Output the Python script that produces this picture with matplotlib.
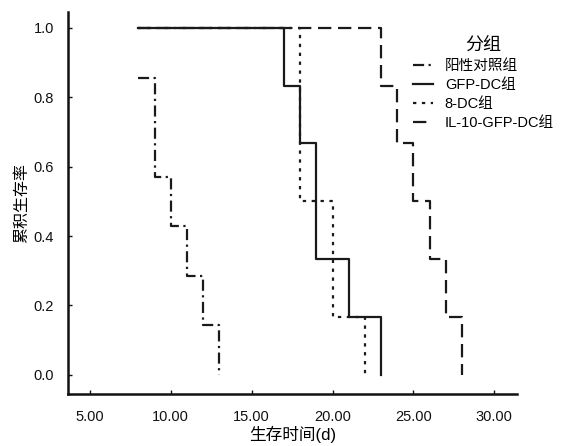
import numpy as np
import matplotlib
matplotlib.use("Agg")
import matplotlib.pyplot as plt

plt.rcParams['font.family'] = ['Liberation Sans', 'Noto Sans CJK SC']
plt.rcParams['axes.unicode_minus'] = False

# 生存曲线：各组的时间点(天)与累积生存率
groups = ["阳性对照组", "GFP-DC组", "8-DC组", "IL-10-GFP-DC组"]
t_pos = [8, 9, 10, 11, 12, 13]
s_pos = [0.857, 0.571, 0.429, 0.286, 0.143, 0.0]
t_gfp = [8, 17, 18, 19, 21, 23]
s_gfp = [1.0, 0.833, 0.667, 0.333, 0.167, 0.0]
t_8dc = [8, 18, 20, 22]
s_8dc = [1.0, 0.5, 0.167, 0.0]
t_il10 = [8, 23, 24, 25, 26, 27, 28]
s_il10 = [1.0, 0.833, 0.667, 0.5, 0.333, 0.167, 0.0]

xticks = [5, 10, 15, 20, 25, 30]
yticks = [0.0, 0.2, 0.4, 0.6, 0.8, 1.0]

fig = plt.figure(figsize=(5.7, 4.46), dpi=100)
ax = fig.add_axes([0.119, 0.117, 0.788, 0.856])

c = "#1a1a1a"
ax.step(t_pos, s_pos, where="post", color=c, lw=1.6, ls=(0, (5, 2, 1, 2)), label=groups[0])
ax.step(t_gfp, s_gfp, where="post", color=c, lw=1.6, ls="-", label=groups[1])
ax.step(t_8dc, s_8dc, where="post", color=c, lw=1.6, ls=(0, (1.5, 2.5)), label=groups[2])
ax.step(t_il10, s_il10, where="post", color=c, lw=1.6, ls=(0, (6, 3)), label=groups[3])

ax.set_xlim(3.64, 31.4)
ax.set_ylim(-0.055, 1.046)
ax.set_xticks(xticks)
ax.set_xticklabels(["%.2f" % v for v in xticks])
ax.set_yticks(yticks)
ax.set_yticklabels(["%.1f" % v for v in yticks])

for s in ["top", "right"]:
    ax.spines[s].set_visible(False)
for s in ["left", "bottom"]:
    ax.spines[s].set_linewidth(1.8)
    ax.spines[s].set_color("#111111")

ax.tick_params(direction="in", length=3, width=1, labelsize=10.5, colors="#111111")
ax.tick_params(axis="x", pad=12)
ax.tick_params(axis="y", pad=10)

ax.set_xlabel("生存时间(d)", fontsize=12, labelpad=1)
ax.set_ylabel("累积生存率", fontsize=11.5, labelpad=3)

leg = ax.legend(title="分组", loc="upper left", bbox_to_anchor=(0.724, 0.917),
                bbox_transform=fig.transFigure, frameon=False, fontsize=10.5,
                title_fontsize=13, handlelength=1.4, handletextpad=0.8,
                labelspacing=0.35, borderpad=0, borderaxespad=0)

fig.savefig("out.png", dpi=100)
